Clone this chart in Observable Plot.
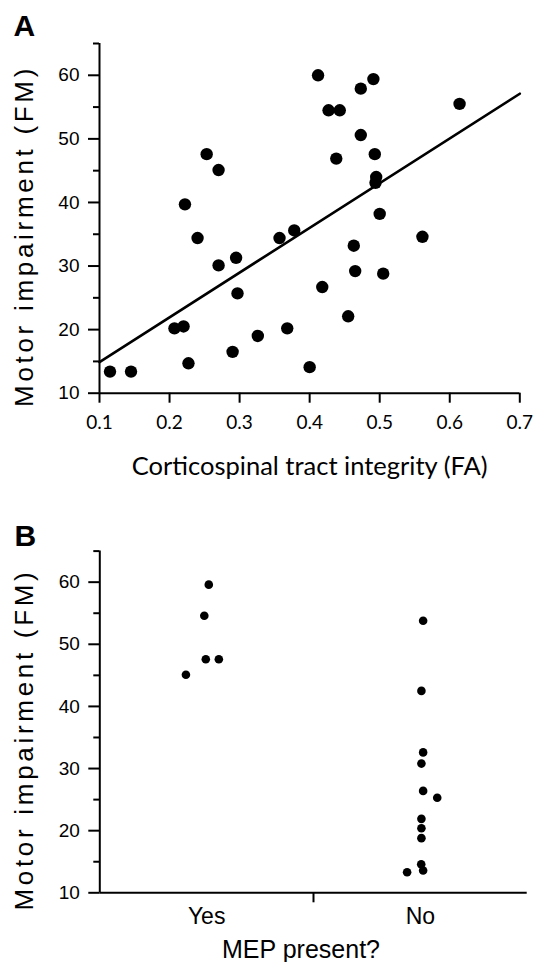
<!DOCTYPE html>
<html>
<head>
<meta charset="utf-8">
<script src="https://cdn.jsdelivr.net/npm/d3@7"></script>
<script src="https://cdn.jsdelivr.net/npm/@observablehq/plot@0.6"></script>
<style>
  html, body { margin: 0; padding: 0; background: #fff; }
  #wrap { position: relative; width: 534px; height: 962px; overflow: hidden; background: #fff; }
  #wrap svg { position: absolute; left: 0; }
</style>
</head>
<body>
<div id="wrap"></div>
<script>
// ---------- Panel A data ----------
const faValues = [0.115,0.145,0.207,0.220,0.222,0.227,0.240,0.253,0.270,0.270,0.290,0.295,0.297,0.326,0.357,0.368,0.378,0.400,0.412,0.418,0.427,0.438,0.443,0.455,0.463,0.465,0.473,0.473,0.491,0.493,0.494,0.495,0.500,0.505,0.561,0.614];
const fmValuesA = [13.4,13.4,20.2,20.5,39.7,14.7,34.4,47.6,45.1,30.1,16.5,31.3,25.7,19.0,34.4,20.2,35.6,14.1,60.0,26.7,54.5,46.9,54.5,22.1,33.2,29.2,57.9,50.6,59.4,47.6,43.1,44.0,38.2,28.8,34.6,55.5];
const fitFA = [0.1, 0.7];
const fitFM = [14.9, 57.1];
const faTicks = [0.1,0.2,0.3,0.4,0.5,0.6,0.7];
const fmMajorTicks = [10,20,30,40,50,60];
const fmMinorTicks = [15,25,35,45,55,65];

// ---------- Panel B data ----------
const mepCategories = ["Yes","No"];
const mepGroup = ["Yes","Yes","Yes","Yes","Yes","No","No","No","No","No","No","No","No","No","No","No","No"];
const fmValuesB = [59.6,54.6,47.6,47.6,45.1,53.8,42.5,32.6,30.8,26.4,25.3,21.9,20.4,18.8,14.6,13.6,13.3];
const mepJitter = [0.010,-0.011,-0.004,0.057,-0.097,0.013,0.005,0.013,0.005,0.013,0.079,0.005,0.005,0.005,0.004,0.013,-0.062];

const titleA = "A", titleB = "B";
const yTitle = "Motor impairment (FM)";
const xTitleA = "Corticospinal tract integrity (FA)";
const xTitleB = "MEP present?";

const SANS = "'Liberation Sans', Arial, sans-serif";
const CAL = "Lato, 'Open Sans', sans-serif";

const ptsA = faValues.map((fa, i) => ({fa, fm: fmValuesA[i]}));
const fitLine = fitFA.map((fa, i) => ({fa, fm: fitFM[i]}));
const ptsB = fmValuesB.map((fm, i) => ({pos: mepCategories.indexOf(mepGroup[i]) + 1 + mepJitter[i], fm}));

const wrap = document.getElementById("wrap");

// ---------- Panel A ----------
const plotA = Plot.plot({
  width: 534, height: 480,
  marginTop: 43, marginBottom: 87.3, marginLeft: 99, marginRight: 14.7,
  style: {background: "white", fontFamily: SANS, color: "black", overflow: "visible"},
  x: {domain: [0.1, 0.7]},
  y: {domain: [10, 65]},
  marks: [
    Plot.ruleX([0.1], {y1: 10, y2: 65, stroke: "black", strokeWidth: 2}),
    Plot.ruleY([10], {x1: 0.1, x2: 0.7, stroke: "black", strokeWidth: 2}),
    Plot.axisY(fmMajorTicks, {tickSize: 11, tickPadding: 9, strokeWidth: 2, strokeOpacity: 1, fontSize: 19, fontFamily: SANS, tickFormat: d => String(d), label: null}),
    Plot.axisY(fmMinorTicks, {tickSize: 6, strokeWidth: 2, strokeOpacity: 1, tickFormat: () => "", label: null}),
    Plot.axisX(faTicks, {tickSize: 10, tickPadding: 12, strokeWidth: 2, strokeOpacity: 1, fontSize: 19, fontFamily: CAL, tickFormat: d => d.toFixed(1), label: null}),
    Plot.line(fitLine, {x: "fa", y: "fm", stroke: "black", strokeWidth: 2.6}),
    Plot.dot(ptsA, {x: "fa", y: "fm", r: 6.2, fill: "black", stroke: null}),
    Plot.text([titleA], {frameAnchor: "top-left", textAnchor: "start", lineAnchor: "middle", dx: -86, dy: -17, fontSize: 30, fontWeight: "bold", fontFamily: SANS, fill: "black"}),
    Plot.text([xTitleA], {frameAnchor: "bottom", textAnchor: "middle", lineAnchor: "middle", dy: 73.6, fontSize: 25.5, fontFamily: CAL, fill: "black"}),
    Plot.text([yTitle], {frameAnchor: "left", textAnchor: "middle", lineAnchor: "middle", rotate: -90, dx: -75.3, dy: 17.6, fontSize: 26, fontFamily: SANS, fill: "black", className: "ytitle"})
  ]
});
plotA.style.top = "0px";
wrap.appendChild(plotA);

// ---------- Panel B ----------
const plotB = Plot.plot({
  width: 534, height: 482,
  marginTop: 70.6, marginBottom: 69.7, marginLeft: 99.3, marginRight: 7.3,
  style: {background: "white", fontFamily: SANS, color: "black", overflow: "visible"},
  x: {domain: [0.5, 2.5]},
  y: {domain: [10, 65]},
  marks: [
    Plot.ruleX([0.5], {y1: 10, y2: 65, stroke: "black", strokeWidth: 2}),
    Plot.ruleY([10], {x1: 0.5, x2: 2.5, stroke: "black", strokeWidth: 2}),
    Plot.axisY(fmMajorTicks, {tickSize: 11, tickPadding: 9, strokeWidth: 2, strokeOpacity: 1, fontSize: 19, fontFamily: SANS, tickFormat: d => String(d), label: null}),
    Plot.axisY(fmMinorTicks, {tickSize: 6, strokeWidth: 2, strokeOpacity: 1, tickFormat: () => "", label: null}),
    Plot.axisX([1, 2], {tickSize: 0, tickPadding: 15, fontSize: 23, fontFamily: SANS, tickFormat: d => mepCategories[d - 1], label: null}),
    Plot.axisX([1.5], {tickSize: 10, strokeWidth: 2, strokeOpacity: 1, tickFormat: () => "", label: null}),
    Plot.dot(ptsB, {x: "pos", y: "fm", r: 4.3, fill: "black", stroke: null}),
    Plot.text([titleB], {frameAnchor: "top-left", textAnchor: "start", lineAnchor: "middle", dx: -85.3, dy: -14.7, fontSize: 30, fontWeight: "bold", fontFamily: SANS, fill: "black"}),
    Plot.text([xTitleB], {frameAnchor: "bottom", textAnchor: "middle", lineAnchor: "middle", dx: -12.5, dy: 56.7, fontSize: 25, fontFamily: SANS, fill: "black"}),
    Plot.text([yTitle], {frameAnchor: "left", textAnchor: "middle", lineAnchor: "middle", rotate: -90, dx: -75.3, dy: 17.6, fontSize: 26, fontFamily: SANS, fill: "black", className: "ytitle"})
  ]
});
plotB.style.top = "480px";
wrap.appendChild(plotB);

d3.selectAll(".ytitle text").style("letter-spacing", "3.7px");
</script>
</body>
</html>
